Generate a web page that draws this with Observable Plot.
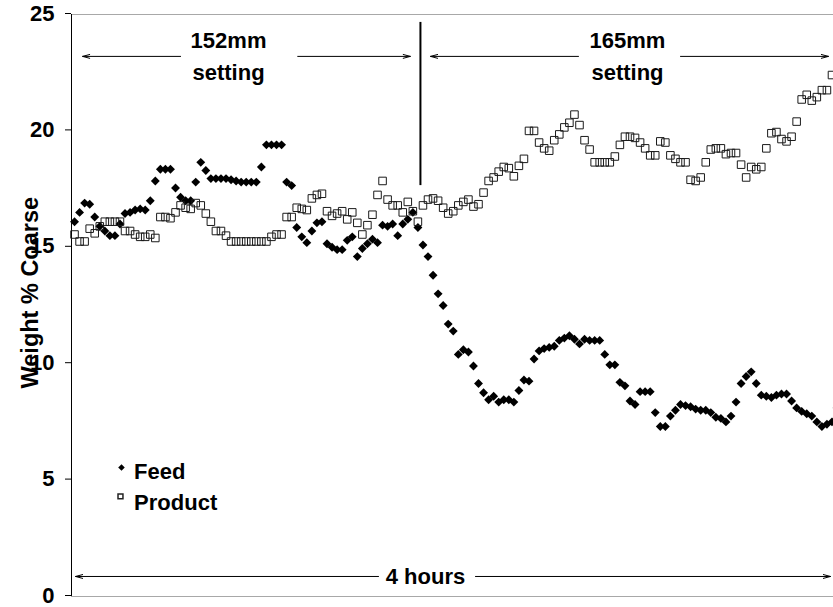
<!DOCTYPE html>
<html><head><meta charset="utf-8">
<script src="https://cdn.jsdelivr.net/npm/d3@7"></script>
<script src="https://cdn.jsdelivr.net/npm/@observablehq/plot@0.6"></script>
<style>
html,body{margin:0;padding:0;background:#fff;}
svg{display:block;}
</style></head><body><div id="chart"></div>
<script>
// Feed (filled diamonds), one value per sample
const feed = [
16.1,16.5,16.9,16.85,16.3,15.9,15.7,15.5,15.5,16.0,
16.45,16.5,16.6,16.65,16.6,17.0,17.85,18.35,18.35,18.35,
17.55,17.15,17.0,17.0,17.8,18.65,18.3,17.95,17.95,17.95,
17.95,17.9,17.85,17.8,17.8,17.8,17.8,18.45,19.4,19.4,
19.4,19.4,17.8,17.65,15.85,15.45,15.2,15.7,16.05,16.1,
15.15,15.0,14.9,14.9,15.3,15.45,14.6,14.95,15.15,15.35,
15.2,15.95,15.9,16.0,15.5,16.0,16.2,16.5,15.85,15.1,
14.6,13.8,13.0,12.5,11.7,11.4,10.4,10.6,10.5,9.9,
9.15,8.75,8.45,8.6,8.35,8.45,8.45,8.35,8.85,9.3,
9.25,10.2,10.55,10.65,10.7,10.75,11.0,11.1,11.2,11.05,
10.85,11.05,11.0,11.0,11.0,10.4,9.95,9.95,9.2,9.05,
8.4,8.25,8.8,8.8,8.8,7.9,7.3,7.3,7.75,8.0,
8.25,8.2,8.15,8.05,8.0,8.0,7.9,7.7,7.65,7.5,
7.75,8.35,9.15,9.45,9.65,9.15,8.65,8.6,8.55,8.65,
8.7,8.7,8.4,8.1,7.95,7.85,7.75,7.5,7.3,7.4,
7.5,8.1
];
// Product (open squares)
const product = [
15.55,15.25,15.25,15.8,15.6,15.9,16.1,16.1,16.1,16.1,
15.7,15.7,15.55,15.45,15.45,15.55,15.4,16.3,16.3,16.25,
16.5,16.8,16.7,16.65,16.9,16.8,16.45,16.1,15.7,15.7,
15.5,15.25,15.25,15.25,15.25,15.25,15.25,15.25,15.25,15.45,
15.55,15.55,16.3,16.3,16.7,16.65,16.6,17.1,17.25,17.3,
16.55,16.35,16.45,16.55,16.2,16.5,16.05,15.55,15.95,16.4,
17.25,17.85,17.05,16.8,16.8,16.5,16.95,16.55,16.1,16.8,
17.05,17.1,17.0,16.7,16.45,16.55,16.8,16.95,17.05,16.75,
16.85,17.35,17.85,18.0,18.25,18.45,18.4,18.05,18.5,18.8,
20.0,20.0,19.5,19.25,19.15,19.6,19.85,20.15,20.35,20.7,
20.25,19.6,19.2,18.65,18.65,18.65,18.65,18.9,19.4,19.75,
19.75,19.7,19.5,19.25,18.95,18.95,19.55,19.5,18.95,18.8,
18.65,18.65,17.9,17.85,18.0,18.65,19.2,19.25,19.25,19.0,
19.05,19.05,18.55,18.0,18.45,18.35,18.45,19.25,19.9,19.95,
19.65,19.55,19.75,20.4,21.35,21.55,21.3,21.45,21.75,21.75,
22.4
];
const yTicks = [0, 5, 10, 15, 20, 25];
const yLabel = "Weight % Coarse";
const xDomain = [-0.6, 150.3];
const yDomain = [0, 25];

// annotations (data units: sample index, % value)
const annoText = [
  {i: 30.5, v: 23.88, t: "152mm"},
  {i: 30.5, v: 22.5, t: "setting"},
  {i: 109.5, v: 23.88, t: "165mm"},
  {i: 109.5, v: 22.5, t: "setting"},
  {i: 69.5, v: 0.86, t: "4 hours"}
];
const annoArrows = [
  {i1: 21.0, i2: 1.6, v: 23.2},
  {i1: 44.2, i2: 66.5, v: 23.2},
  {i1: 99.8, i2: 70.5, v: 23.2},
  {i1: 120.0, i2: 149.3, v: 23.2},
  {i1: 60.2, i2: 0.2, v: 0.86},
  {i1: 79.4, i2: 149.7, v: 0.86}
];
const divider = [{i: 68.5, v1: 17.65, v2: 24.66}];
const axisTitle = [{i: -8.7, v: 13.05, t: yLabel}];
const legendSymbols = [
  {i: 9.3, v: 5.54, s: "diamond2", f: "black", st: "none", r: 2.9},
  {i: 9.1, v: 4.3, s: "square2", f: "none", st: "#222", r: 3.3}
];
const legendLabels = [
  {i: 11.8, v: 5.37, t: "Feed"},
  {i: 11.8, v: 4.0, t: "Product"}
];

const feedData = feed.map((v, i) => ({i, v}));
const productData = product.map((v, i) => ({i, v}));

const txt = {fontSize: 22, fontWeight: "bold", fill: "black"};

const chart = Plot.plot({
  width: 833, height: 607,
  marginLeft: 71, marginRight: 0, marginTop: 14, marginBottom: 11,
  x: {domain: xDomain, axis: null},
  y: {domain: yDomain},
  style: {fontFamily: "Arial, 'Liberation Sans', sans-serif", background: "#fff", color: "black"},
  marks: [
    Plot.ruleY(yDomain, {stroke: "#a8a8a8", strokeWidth: 1}),
    Plot.ruleX([xDomain[0]], {stroke: "black", strokeWidth: 1}),
    Plot.axisY(yTicks, {tickSize: 6, tickPadding: 11, fontSize: 22, fontWeight: "bold", label: null, dy: -1}),
    Plot.dot(feedData, {x: "i", y: "v", symbol: "diamond2", r: 4.0, fill: "black", stroke: "none"}),
    Plot.dot(productData, {x: "i", y: "v", symbol: "square2", r: 4.8, fill: "none", stroke: "#1a1a1a", strokeWidth: 1}),
    Plot.ruleX(divider, {x: "i", y1: "v1", y2: "v2", stroke: "black", strokeWidth: 2}),
    Plot.arrow(annoArrows, {x1: "i1", x2: "i2", y1: "v", y2: "v", stroke: "black", strokeWidth: 1, headLength: 11, headAngle: 30}),
    Plot.text(annoText, {x: "i", y: "v", text: "t", ...txt}),
    Plot.text(axisTitle, {x: "i", y: "v", text: "t", rotate: -90, ...txt, fontSize: 23.5}),
    Plot.dot(legendSymbols, {x: "i", y: "v", symbol: "s", r: "r", fill: "f", stroke: "st"}),
    Plot.text(legendLabels, {x: "i", y: "v", text: "t", textAnchor: "start", ...txt})
  ]
});
document.getElementById("chart").appendChild(chart);
</script></body></html>
